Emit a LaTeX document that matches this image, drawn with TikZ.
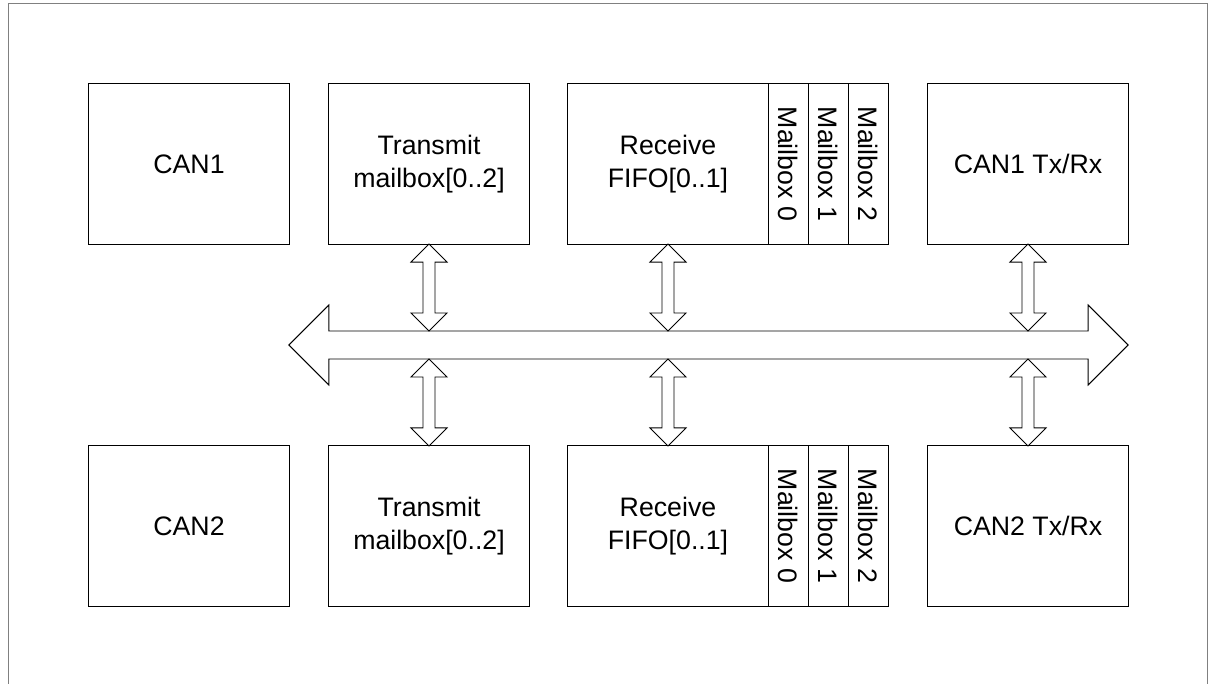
\documentclass[tikz,border=0pt]{standalone}
\usepackage{fontspec}
\setmainfont{Liberation Sans}
\usetikzlibrary{positioning,calc}
\newcommand{\fatarrow}[2]{%
  \draw[fat] (#1) -- ++(18,18) -- ++(-12,0) -- ($(#2)+(6,-18)$) -- ++(12,0) -- (#2)
    -- ++(-18,-18) -- ++(12,0) -- ($(#1)+(-6,18)$) -- ++(-12,0) -- cycle;}

\begin{document}
\begin{tikzpicture}[x=0.025cm, y=-0.025cm,
  font=\fontsize{19}{23.5}\selectfont,
  bx/.style={draw, line width=0.7pt, minimum width=5cm, minimum height=4cm,
    inner sep=0pt, outer sep=0pt, align=center},
  mb/.style={draw, line width=0.7pt, minimum width=1cm, minimum height=4cm,
    inner sep=0pt, outer sep=0pt},
  fat/.style={draw, line width=0.7pt, fill=white, line join=miter}]
\useasboundingbox (0,0) rectangle (1213,684);
\draw[gray, line width=1.4pt] (8.5,684) |- (1207.5,3.5) -- (1207.5,684);

\node[bx] (can1) at (189,164) {CAN1};
\node[bx] (tx1) at (429,164) {Transmit\\mailbox[0..2]};
\node[bx] (rx1) at (668,164) {Receive\\FIFO[0..1]};
\node[mb, right=0pt of rx1] (mb10) {\rotatebox{-90}{Mailbox 0}};
\node[mb, right=0pt of mb10] (mb11) {\rotatebox{-90}{Mailbox 1}};
\node[mb, right=0pt of mb11] (mb12) {\rotatebox{-90}{Mailbox 2}};
\node[bx] (trx1) at (1028,164) {CAN1 Tx/Rx};

\node[bx] (can2) at (189,526) {CAN2};
\node[bx] (tx2) at (429,526) {Transmit\\mailbox[0..2]};
\node[bx] (rx2) at (668,526) {Receive\\FIFO[0..1]};
\node[mb, right=0pt of rx2] (mb20) {\rotatebox{-90}{Mailbox 0}};
\node[mb, right=0pt of mb20] (mb21) {\rotatebox{-90}{Mailbox 1}};
\node[mb, right=0pt of mb21] (mb22) {\rotatebox{-90}{Mailbox 2}};
\node[bx] (trx2) at (1028,526) {CAN2 Tx/Rx};

\node[minimum width=20.975cm, minimum height=0.7cm, inner sep=0pt, outer sep=0pt] (bus) at (708.5,345) {};
\draw[fat] (bus.west) -- ($(bus.west)+(40,-40)$) -- ($(bus.north west)+(40,0)$)
  -- ($(bus.north east)+(-40,0)$) -- ($(bus.east)+(-40,-40)$) -- (bus.east)
  -- ($(bus.east)+(-40,40)$) -- ($(bus.south east)+(-40,0)$)
  -- ($(bus.south west)+(40,0)$) -- ($(bus.west)+(40,40)$) -- cycle;

\foreach \n in {tx1,rx1,trx1} {
  \coordinate (\n-bus) at (\n.south |- bus.north);
  \fatarrow{\n.south}{\n-bus}
}
\foreach \n in {tx2,rx2,trx2} {
  \coordinate (\n-bus) at (\n.north |- bus.south);
  \fatarrow{\n-bus}{\n.north}
}
\end{tikzpicture}
\end{document}
